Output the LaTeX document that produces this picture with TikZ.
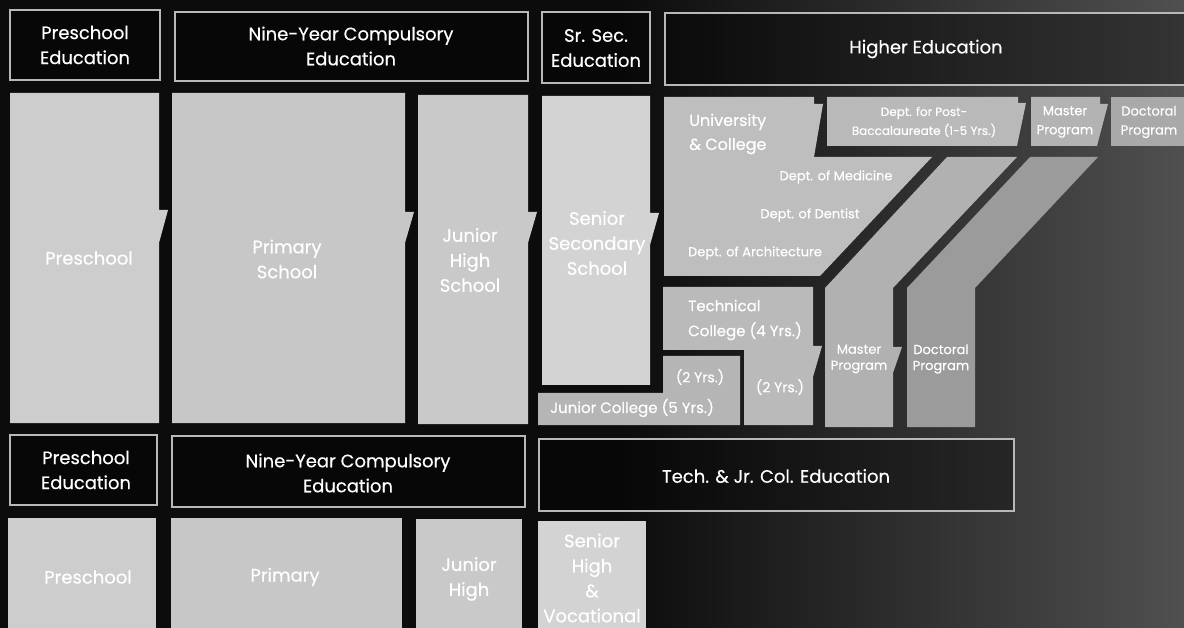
\documentclass[tikz,border=0pt]{standalone}
\usepackage{fontspec}
\setmainfont{Poppins}[FakeBold=0.35]
\definecolor{bgdark}{HTML}{0C0C0C}
\definecolor{bglight}{HTML}{505050}
\definecolor{hline}{HTML}{B8B8B8}
\definecolor{cpre}{HTML}{CDCDCD}
\definecolor{cprim}{HTML}{C7C7C7}
\definecolor{cjh}{HTML}{C9C9C9}
\definecolor{css}{HTML}{D3D3D3}
\definecolor{cuniv}{HTML}{BEBEBE}
\definecolor{cdept}{HTML}{B9B9B9}
\definecolor{cmtop}{HTML}{B3B3B3}
\definecolor{cdtop}{HTML}{A9A9A9}
\definecolor{ctech}{HTML}{BABABA}
\definecolor{cjc}{HTML}{B5B5B5}
\definecolor{cmband}{HTML}{B1B1B1}
\definecolor{cdband}{HTML}{9B9B9B}
\tikzset{
  hdrbox/.style={draw=hline, line width=1.5pt, fill=black, fill opacity=0.35},
  lbl/.style={text=white, align=center, inner sep=0pt, font=\fontsize{18}{25}\selectfont},
  mid/.style={lbl, font=\fontsize{15}{25}\selectfont},
  sml/.style={lbl, font=\fontsize{13}{16}\selectfont},
  tiny/.style={lbl, font=\fontsize{12}{19}\selectfont},
}
\begin{document}
\begin{tikzpicture}[x=1pt, y=-1pt]
\useasboundingbox (0,0) rectangle (1184,628);
% background
\fill[bgdark] (0,0) rectangle (1184,628);
\shade[left color=bgdark, right color=bglight] (620,0) rectangle (1184,628);

% ---------- row 1 headers
\draw[hdrbox] (10,10) rectangle (160,80);
\draw[hdrbox] (175,12) rectangle (528,81);
\draw[hdrbox] (542,12) rectangle (650,83);
\draw[hdrbox] (665,13) rectangle (1200,85);
\node[lbl] (hpre1) at (85,45) {Preschool\\Education};
\node[lbl] (hnine1) at (351,46) {Nine-Year Compulsory\\Education};
\node[lbl] (hsr) at (596,48) {Sr. Sec.\\Education};
\node[lbl] (hhigh) at (926,49) {Higher Education};

% ---------- row 2 blocks
\fill[cpre] (10,93) -- (159,93) -- (159,210) -- (168,210) -- (159,243) -- (159,423) -- (10,423) -- cycle;
\fill[cprim] (172,93) -- (405,93) -- (405,212) -- (414,212) -- (405,243) -- (405,423) -- (172,423) -- cycle;
\fill[cjh] (418,95) -- (528,95) -- (528,212) -- (537,212) -- (528,243) -- (528,424) -- (418,424) -- cycle;
\fill[css] (542,96) -- (650,96) -- (650,213) -- (659,213) -- (650,245) -- (650,385) -- (542,385) -- cycle;
\fill[cuniv] (664,97) -- (814,97) -- (814,104) -- (823,104) -- (814,157) -- (932,157) -- (820,276) -- (664,276) -- cycle;
\fill[cdept] (827,97) -- (1018,97) -- (1018,103) -- (1026,103) -- (1017,146) -- (827,146) -- cycle;
\fill[cmtop] (1031,97) -- (1100,97) -- (1100,104) -- (1108,104) -- (1097,146) -- (1031,146) -- cycle;
\fill[cdtop] (1111,97) -- (1190,97) -- (1190,146) -- (1111,146) -- cycle;
\fill[cmband] (825,427) -- (825,288) -- (947,157) -- (1017,157) -- (893,288) -- (893,347) -- (902,347) -- (893,373) -- (893,427) -- cycle;
\fill[cdband] (907,427) -- (907,288) -- (1030,157) -- (1098,157) -- (975,288) -- (975,427) -- cycle;
\fill[ctech] (663,287) -- (813,287) -- (813,346) -- (822,346) -- (813,377) -- (813,425) -- (744,425) -- (744,350) -- (663,350) -- cycle;
\fill[cjc] (538,393) -- (663,393) -- (663,356) -- (740,356) -- (740,425) -- (538,425) -- cycle;

\node[lbl] (tpre) at (89,258) {Preschool};
\node[lbl] (tprim) at (287,259) {Primary\\School};
\node[lbl] (tjh) at (470,260) {Junior\\High\\School};
\node[lbl] (tss) at (597,243) {Senior\\Secondary\\School};
\node[lbl, anchor=west, align=left, font=\fontsize{16}{24}\selectfont] (tuniv) at (689,134) {University\\\& College};
\node[tiny, font=\fontsize{12}{19}\selectfont] (tdept) at (924,122) {Dept. for Post-\\Baccalaureate (1-5 Yrs.)};
\node[sml, font=\fontsize{13}{19}\selectfont] (tmast1) at (1065,122) {Master\\Program};
\node[sml, font=\fontsize{13}{19}\selectfont] (tdoc1) at (1149,122) {Doctoral\\Program};
\node[sml] (tmed) at (836,177) {Dept. of Medicine};
\node[sml] (tdent) at (810,215) {Dept. of Dentist};
\node[sml] (tarch) at (755,253) {Dept. of Architecture};
\node[mid, anchor=west, align=left] (ttech) at (688,320) {Technical\\College (4 Yrs.)};
\node[mid, font=\fontsize{14}{20}\selectfont] (t2a) at (700,377) {(2 Yrs.)};
\node[mid, font=\fontsize{14}{20}\selectfont] (t2b) at (780,387) {(2 Yrs.)};
\node[mid, anchor=west] (tjc) at (550,408) {Junior College (5 Yrs.)};
\node[sml] (tmast2) at (859,359) {Master\\Program};
\node[sml] (tdoc2) at (941,359) {Doctoral\\Program};

% ---------- row 3 headers
\draw[hdrbox] (10,435) rectangle (157,505);
\draw[hdrbox] (172,436) rectangle (525,507);
\draw[hdrbox] (539,439) rectangle (1014,511);
\node[lbl] (hpre2) at (86,470) {Preschool\\Education};
\node[lbl] (hnine2) at (348,473) {Nine-Year Compulsory\\Education};
\node[lbl] (htech) at (776,476) {Tech. \& Jr. Col. Education};

% ---------- row 4 blocks
\fill[cpre] (8,518) rectangle (156,640);
\fill[cprim] (171,518) rectangle (402,640);
\fill[cjh] (416,519) rectangle (522,640);
\fill[css] (538,521) rectangle (646,640);
\node[lbl] (bpre) at (88,577) {Preschool};
\node[lbl] (bprim) at (285,577) {Primary};
\node[lbl] (bjh) at (469,579) {Junior\\High};
\node[lbl] (bsh) at (592,578) {Senior\\High\\\&\\Vocational};
\end{tikzpicture}
\end{document}
